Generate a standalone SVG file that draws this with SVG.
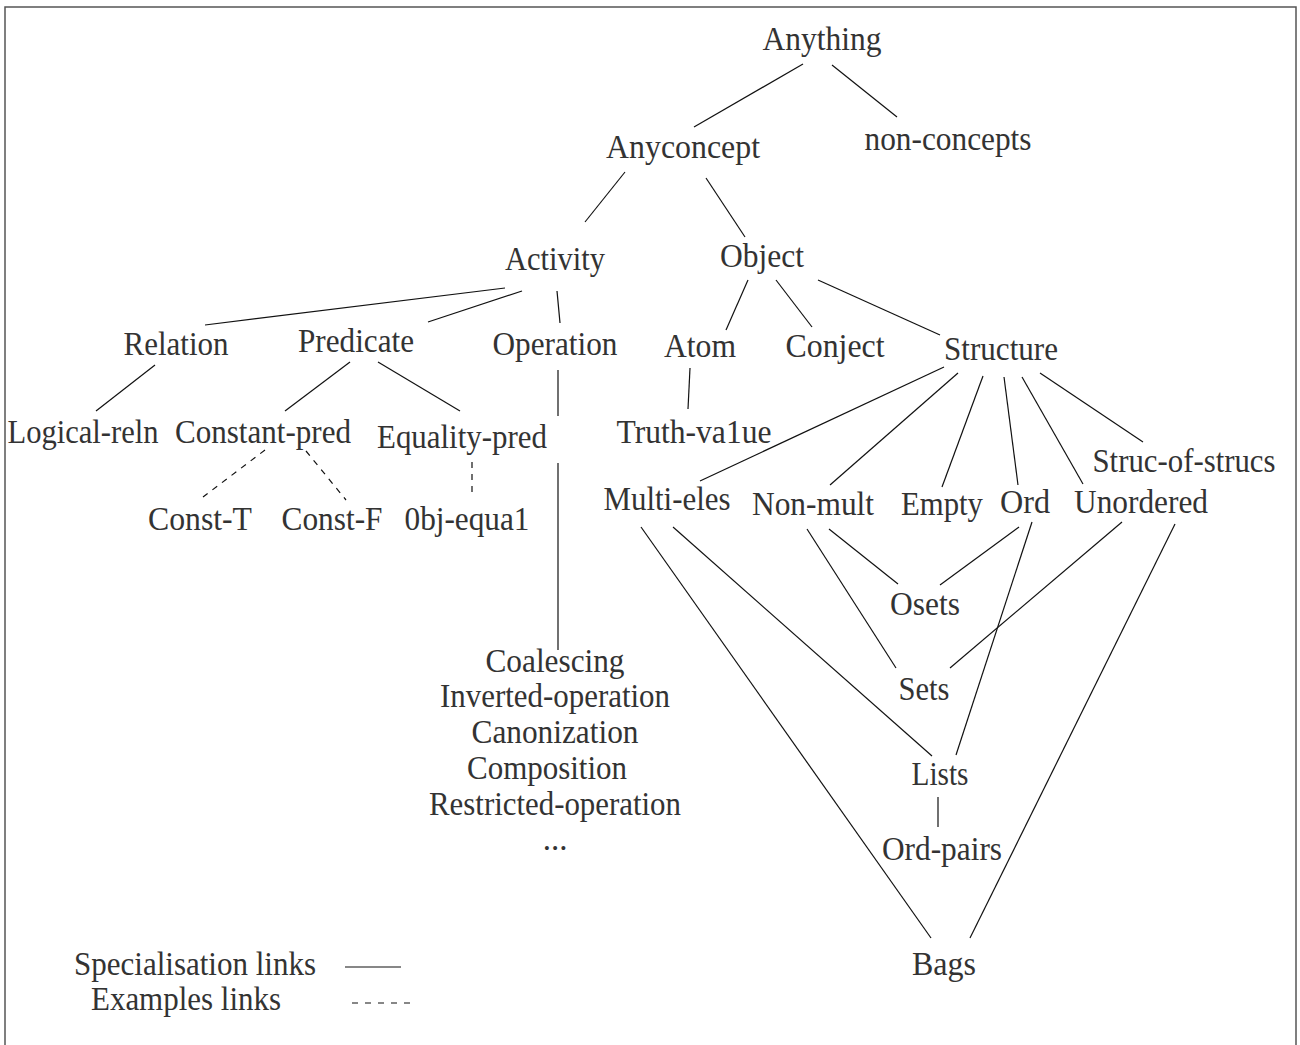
<svg xmlns="http://www.w3.org/2000/svg" width="1300" height="1045" viewBox="0 0 1300 1045">
<style>
text{font-family:"Liberation Serif","Times New Roman",serif;font-size:33px;fill:#333;text-anchor:middle}
.l line{stroke:#111;stroke-width:1.2;fill:none}
.d{stroke-dasharray:6 6}
</style>
<rect x="5" y="7" width="1291" height="1050" fill="#fff" stroke="#555" stroke-width="1.5"/>
<g class="l" id="connectors">
<line x1="803" y1="64" x2="694" y2="127"/>
<line x1="832" y1="65" x2="897" y2="117"/>
<line x1="625" y1="172" x2="585" y2="222"/>
<line x1="706" y1="178" x2="745" y2="237"/>
<line x1="505" y1="288" x2="205" y2="325"/>
<line x1="522" y1="291" x2="428" y2="322"/>
<line x1="557" y1="291" x2="560" y2="323"/>
<line x1="748" y1="280" x2="726" y2="330"/>
<line x1="776" y1="280" x2="812" y2="327"/>
<line x1="818" y1="280" x2="940" y2="335"/>
<line x1="155" y1="365" x2="96" y2="411"/>
<line x1="350" y1="362" x2="285" y2="411"/>
<line x1="378" y1="362" x2="460" y2="411"/>
<line x1="558" y1="370" x2="558" y2="416"/>
<line x1="558" y1="463" x2="558" y2="650"/>
<line x1="690" y1="368" x2="688" y2="409"/>
<line class="d" x1="265" y1="450" x2="203" y2="497"/>
<line class="d" x1="306" y1="451" x2="346" y2="500"/>
<line class="d" x1="472" y1="462" x2="472" y2="497"/>
<line x1="944" y1="367" x2="700" y2="481"/>
<line x1="958" y1="373" x2="830" y2="485"/>
<line x1="983" y1="376" x2="942" y2="487"/>
<line x1="1004" y1="377" x2="1018" y2="485"/>
<line x1="1022" y1="377" x2="1083" y2="484"/>
<line x1="1040" y1="373" x2="1143" y2="442"/>
<line x1="829" y1="529" x2="898" y2="584"/>
<line x1="1019" y1="527" x2="940" y2="585"/>
<line x1="807" y1="529" x2="896" y2="668"/>
<line x1="1122" y1="522" x2="950" y2="668"/>
<line x1="673" y1="527" x2="932" y2="756"/>
<line x1="1032" y1="522" x2="956" y2="755"/>
<line x1="641" y1="527" x2="931" y2="938"/>
<line x1="1175" y1="524" x2="970" y2="938"/>
<line x1="938" y1="797" x2="938" y2="827"/>
<line x1="345" y1="967" x2="401" y2="967"/>
<line class="d" x1="352" y1="1003" x2="415" y2="1003" style="stroke-dasharray:6 7"/>
</g>
<g id="anything"><text x="822" y="50" textLength="119" lengthAdjust="spacingAndGlyphs">Anything</text></g>
<g id="non-concepts"><text x="948" y="150" textLength="167" lengthAdjust="spacingAndGlyphs">non-concepts</text></g>
<g id="anyconcept"><text x="683" y="158" textLength="154" lengthAdjust="spacingAndGlyphs">Anyconcept</text></g>
<g id="activity"><text x="555" y="270" textLength="100" lengthAdjust="spacingAndGlyphs">Activity</text></g>
<g id="object"><text x="762" y="267" textLength="84" lengthAdjust="spacingAndGlyphs">Object</text></g>
<g id="relation"><text x="176" y="355" textLength="105" lengthAdjust="spacingAndGlyphs">Relation</text></g>
<g id="predicate"><text x="356" y="352" textLength="116" lengthAdjust="spacingAndGlyphs">Predicate</text></g>
<g id="operation"><text x="555" y="355" textLength="125" lengthAdjust="spacingAndGlyphs">Operation</text></g>
<g id="atom"><text x="700" y="357" textLength="72" lengthAdjust="spacingAndGlyphs">Atom</text></g>
<g id="conject"><text x="835" y="357" textLength="99" lengthAdjust="spacingAndGlyphs">Conject</text></g>
<g id="structure"><text x="1001" y="360" textLength="114" lengthAdjust="spacingAndGlyphs">Structure</text></g>
<g id="logical-reln"><text x="83" y="443" textLength="151" lengthAdjust="spacingAndGlyphs">Logical-reln</text></g>
<g id="constant-pred"><text x="263" y="443" textLength="176" lengthAdjust="spacingAndGlyphs">Constant-pred</text></g>
<g id="equality-pred"><text x="462" y="448" textLength="170" lengthAdjust="spacingAndGlyphs">Equality-pred</text></g>
<g id="truth-value"><text x="694" y="443" textLength="155" lengthAdjust="spacingAndGlyphs">Truth-va1ue</text></g>
<g id="const-t"><text x="200" y="530" textLength="104" lengthAdjust="spacingAndGlyphs">Const-T</text></g>
<g id="const-f"><text x="332" y="530" textLength="101" lengthAdjust="spacingAndGlyphs">Const-F</text></g>
<g id="obj-equal"><text x="467" y="530" textLength="125" lengthAdjust="spacingAndGlyphs">0bj-equa1</text></g>
<g id="struc-of-strucs"><text x="1184" y="472" textLength="183" lengthAdjust="spacingAndGlyphs">Struc-of-strucs</text></g>
<g id="multi-eles"><text x="667" y="510" textLength="127" lengthAdjust="spacingAndGlyphs">Multi-eles</text></g>
<g id="non-mult"><text x="813" y="515" textLength="122" lengthAdjust="spacingAndGlyphs">Non-mult</text></g>
<g id="empty"><text x="942" y="515" textLength="82" lengthAdjust="spacingAndGlyphs">Empty</text></g>
<g id="ord"><text x="1025" y="513" textLength="50" lengthAdjust="spacingAndGlyphs">Ord</text></g>
<g id="unordered"><text x="1141" y="513" textLength="134" lengthAdjust="spacingAndGlyphs">Unordered</text></g>
<g id="osets"><text x="925" y="615" textLength="70" lengthAdjust="spacingAndGlyphs">Osets</text></g>
<g id="sets"><text x="924" y="700" textLength="51" lengthAdjust="spacingAndGlyphs">Sets</text></g>
<g id="lists"><text x="940" y="785" textLength="57" lengthAdjust="spacingAndGlyphs">Lists</text></g>
<g id="ord-pairs"><text x="942" y="860" textLength="120" lengthAdjust="spacingAndGlyphs">Ord-pairs</text></g>
<g id="bags"><text x="944" y="975" textLength="64" lengthAdjust="spacingAndGlyphs">Bags</text></g>
<g id="operations-list">
<text x="555" y="672" textLength="139" lengthAdjust="spacingAndGlyphs">Coalescing</text>
<text x="555" y="707" textLength="230" lengthAdjust="spacingAndGlyphs">Inverted-operation</text>
<text x="555" y="743" textLength="167" lengthAdjust="spacingAndGlyphs">Canonization</text>
<text x="547" y="779" textLength="160" lengthAdjust="spacingAndGlyphs">Composition</text>
<text x="555" y="815" textLength="252" lengthAdjust="spacingAndGlyphs">Restricted-operation</text>
<text x="555" y="850">...</text>
</g>
<g id="legend">
<text x="195" y="975" textLength="242" lengthAdjust="spacingAndGlyphs">Specialisation links</text>
<text x="186" y="1010" textLength="190" lengthAdjust="spacingAndGlyphs">Examples links</text>
</g>
</svg>
